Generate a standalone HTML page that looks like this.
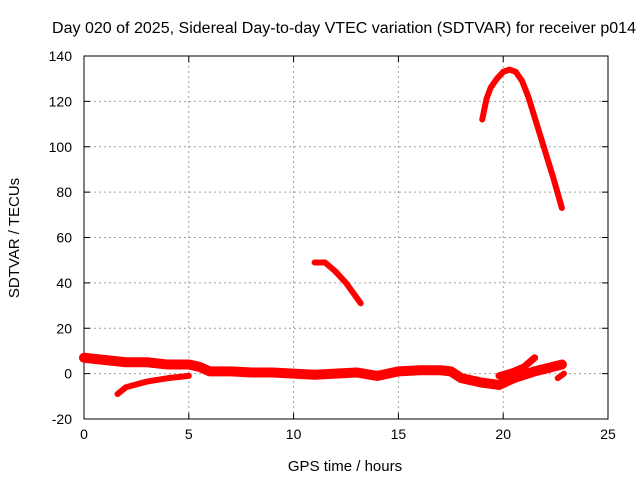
<!DOCTYPE html>
<html><head><meta charset="utf-8"><style>
body{margin:0;background:#fff}
svg text{font-family:"Liberation Sans",sans-serif;font-size:14px;fill:#000}
</style></head><body>
<svg id="chart" width="640" height="480">
<text x="344" y="33" text-anchor="middle" textLength="584" lengthAdjust="spacingAndGlyphs" style="font-size:15.5px">Day 020 of 2025, Sidereal Day-to-day VTEC variation (SDTVAR) for receiver p014</text>
<g id="grid"></g><g id="axes"></g><g id="series"></g>
<text x="345" y="471" text-anchor="middle" style="font-size:15px">GPS time / hours</text>
<text transform="translate(19,238) rotate(-90)" text-anchor="middle" style="font-size:15px">SDTVAR / TECUs</text>
</svg>
<script>
const xTicks=[0,5,10,15,20,25];
const yTicks=[-20,0,20,40,60,80,100,120,140];
const mainX=[0,1,2,3,4,5,5.5,6,7,8,9,10,11,12,13,14,15,16,17,17.5,18,19,19.8,20.5,21.5,22.8];
const mainY=[7,6,5,5,4,4,3,1,1,0.5,0.5,0,-0.5,0,0.5,-1,1,1.5,1.5,1,-2,-4,-5,-2,1,4];
const branchX=[19.8,20.5,21,21.5];
const branchY=[-1,1,3,7];
const lowX=[1.6,2,3,4,5];
const lowY=[-9,-6,-3.5,-2,-1];
const midX=[11,11.5,12,12.5,13.2];
const midY=[49,49,45,40,31];
const peakX=[19,19.2,19.4,19.7,20,20.3,20.6,20.9,21.2,21.5,21.8,22.1,22.4,22.8];
const peakY=[112,121,126,130,133,134,133,129,122,113,104,95,86,73];
const endX=[22.6,22.9];
const endY=[-2,0];
const X0=84,X1=608,Y0=419,Y1=56;
const sx=v=>X0+(v-0)/(25-0)*(X1-X0);
const sy=v=>Y0-(v+20)/160*(Y0-Y1);
const NS="http://www.w3.org/2000/svg";
function mk(t,a,p){const e=document.createElementNS(NS,t);for(const k in a)e.setAttribute(k,a[k]);p.appendChild(e);return e;}
const grid=document.getElementById('grid'),axes=document.getElementById('axes'),ser=document.getElementById('series');
xTicks.forEach(t=>{
 if(t>0&&t<25){const l=mk('line',{x1:sx(t),x2:sx(t),y1:Y1,y2:Y0,stroke:'#a0a0a0','stroke-dasharray':'2,3'},grid);
 
 }
 const tx=mk('text',{x:sx(t),y:Y0+20,'text-anchor':'middle'},axes);tx.textContent=t;
 
 
 mk('line',{x1:sx(t),x2:sx(t),y1:Y0,y2:Y0-6,stroke:'#000'},axes);
 mk('line',{x1:sx(t),x2:sx(t),y1:Y1,y2:Y1+6,stroke:'#000'},axes);
});
yTicks.forEach(t=>{
 if(t>-20&&t<140){const l=mk('line',{x1:X0,x2:X1,y1:sy(t),y2:sy(t),stroke:'#a0a0a0','stroke-dasharray':'2,3'},grid);
 
 }
 const tx=mk('text',{x:X0-12,y:sy(t)+5,'text-anchor':'end'},axes);tx.textContent=t;
 
 
 mk('line',{x1:X0,x2:X0+6,y1:sy(t),y2:sy(t),stroke:'#000'},axes);
 mk('line',{x1:X1,x2:X1-6,y1:sy(t),y2:sy(t),stroke:'#000'},axes);
});
const fr=mk('rect',{x:X0,y:Y1,width:X1-X0,height:Y0-Y1,fill:'none',stroke:'#000'},axes);


function series(xs,ys,w,name){
 const p=mk('polyline',{points:xs.map((x,i)=>sx(x)+','+sy(ys[i])).join(' '),fill:'none',stroke:'#ff0000','stroke-width':w,'stroke-linejoin':'round','stroke-linecap':'round'},ser);
 
 
}
series(mainX,mainY,10,'series-main-band');
series(branchX,branchY,7,'series-branch');
series(lowX,lowY,6,'series-low-branch');
series(midX,midY,6,'series-mid-segment');
series(peakX,peakY,6,'series-peak-segment');
series(endX,endY,6,'series-end-segment');
</script>
</body></html>
